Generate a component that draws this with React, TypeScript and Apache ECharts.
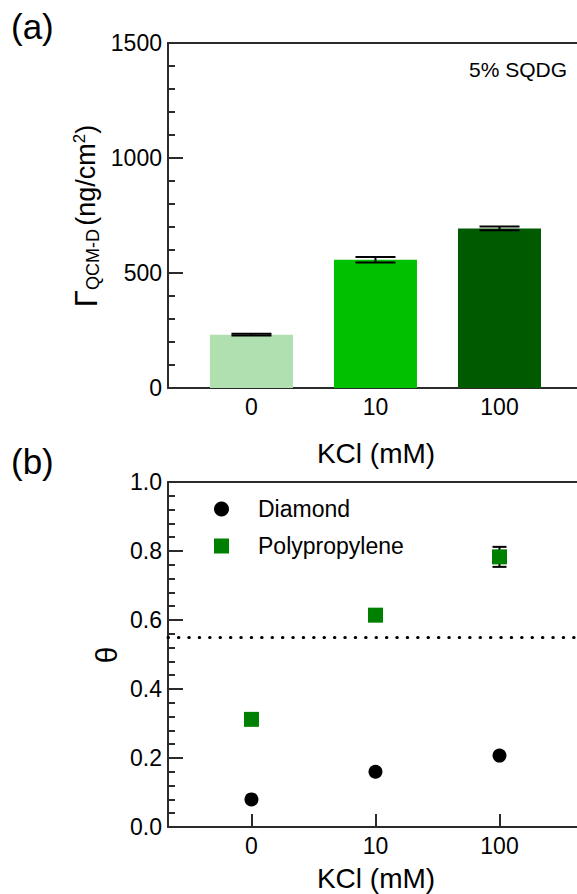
import React, { useEffect, useRef } from "react";
import * as echarts from "echarts";

const kclLabels = ["0", "10", "100"];
const kclPos = [0, 1, 2];
const gammaValues = [232, 558, 694];
const gammaErrors = [4, 12, 8];
const barColors = ["#b0e0b0", "#00c000", "#005a00"];
const diamondTheta = [0.08, 0.16, 0.207];
const polyTheta = [0.312, 0.614, 0.783];
const polyErrors = [0.004, 0.005, 0.029];
const thresholdTheta = 0.547;

const FONT = "'Liberation Sans', Arial, Helvetica, sans-serif";
const AXIS_COLOR = "#2b2b2b";

function errorRender(capHalf: number) {
  return (params: any, api: any) => {
    const x = api.value(0);
    const y = api.value(1);
    const e = api.value(2);
    const hi = api.coord([x, y + e]);
    const lo = api.coord([x, y - e]);
    const style = { stroke: "#000", lineWidth: 2 };
    return {
      type: "group",
      children: [
        { type: "line", shape: { x1: hi[0], y1: hi[1], x2: lo[0], y2: lo[1] }, style },
        { type: "line", shape: { x1: hi[0] - capHalf, y1: hi[1], x2: hi[0] + capHalf, y2: hi[1] }, style },
        { type: "line", shape: { x1: lo[0] - capHalf, y1: lo[1], x2: lo[0] + capHalf, y2: lo[1] }, style },
      ],
    };
  };
}

export default function App() {
  const ref = useRef<HTMLDivElement>(null);
  useEffect(() => {
    if (!ref.current) return;
    const chart = echarts.init(ref.current, undefined, { renderer: "svg" });
    const xMin = -0.673;
    const xMax = 2.625;
    const mkX = (gridIndex: number) => ({
      type: "value",
      gridIndex,
      min: xMin,
      max: xMax,
      axisLine: { show: true, onZero: false, lineStyle: { color: AXIS_COLOR, width: 2 } },
      axisTick: { show: true, inside: true, length: 13, customValues: kclPos, lineStyle: { color: AXIS_COLOR, width: 2 } },
      axisLabel: {
        customValues: kclPos,
        formatter: (v: number) => kclLabels[Math.round(v)] ?? "",
        fontSize: 23,
        fontFamily: FONT,
        color: "#000",
        margin: 7,
      },
      splitLine: { show: false },
    });
    const mkTop = (gridIndex: number) => ({
      type: "value",
      gridIndex,
      position: "top",
      min: xMin,
      max: xMax,
      axisLine: { show: true, onZero: false, lineStyle: { color: AXIS_COLOR, width: 2 } },
      axisTick: { show: false },
      axisLabel: { show: false },
      splitLine: { show: false },
    });
    const mkY = (gridIndex: number, min: number, max: number, interval: number, fmt: (v: number) => string) => ({
      type: "value",
      gridIndex,
      min,
      max,
      interval,
      axisLine: { show: true, onZero: false, lineStyle: { color: AXIS_COLOR, width: 2 } },
      axisTick: { show: true, inside: true, length: 15, lineStyle: { color: AXIS_COLOR, width: 2 } },
      minorTick: { show: true, splitNumber: 5, length: 7, lineStyle: { color: AXIS_COLOR, width: 2 } },
      axisLabel: { formatter: fmt, fontSize: 23, fontFamily: FONT, color: "#000", margin: 6 },
      splitLine: { show: false },
      minorSplitLine: { show: false },
    });

    chart.setOption({
      animation: false,
      backgroundColor: "#fff",
      textStyle: { fontFamily: FONT },
      grid: [
        { left: 168, top: 43, width: 409, height: 345 },
        { left: 168, top: 482, width: 409, height: 345 },
      ],
      xAxis: [mkX(0), mkTop(0), mkX(1), mkTop(1)],
      yAxis: [
        mkY(0, 0, 1500, 500, (v) => String(v)),
        mkY(1, 0, 1, 0.2, (v) => v.toFixed(1)),
      ],
      legend: {
        data: ["Diamond", "Polypropylene"],
        orient: "vertical",
        left: 209,
        top: 491,
        itemWidth: 15,
        itemHeight: 15,
        itemGap: 11,
        itemStyle: { opacity: 1 },
        textStyle: { fontSize: 23, fontFamily: FONT, color: "#000", lineHeight: 26, padding: [0, 0, 0, 24] },
      },
      series: [
        {
          type: "bar",
          xAxisIndex: 0,
          yAxisIndex: 0,
          barWidth: 83,
          data: gammaValues.map((v, i) => ({ value: [kclPos[i], v], itemStyle: { color: barColors[i] } })),
        },
        {
          type: "custom",
          xAxisIndex: 0,
          yAxisIndex: 0,
          z: 5,
          renderItem: errorRender(20),
          data: gammaValues.map((v, i) => [kclPos[i], v, gammaErrors[i]]),
        },
        {
          name: "Diamond",
          type: "scatter",
          xAxisIndex: 2,
          yAxisIndex: 1,
          symbol: "circle",
          symbolSize: 14,
          itemStyle: { color: "#000", opacity: 1 },
          data: diamondTheta.map((v, i) => [kclPos[i], v]),
          markLine: {
            silent: true,
            symbol: ["none", "none"],
            label: { show: false },
            lineStyle: { color: "#000", width: 3, type: [0.5, 9.9], cap: "round", opacity: 1 },
            data: [{ yAxis: thresholdTheta }],
          },
        },
        {
          type: "custom",
          xAxisIndex: 2,
          yAxisIndex: 1,
          z: 3,
          renderItem: errorRender(7),
          data: polyTheta.map((v, i) => [kclPos[i], v, polyErrors[i]]),
        },
        {
          name: "Polypropylene",
          type: "scatter",
          xAxisIndex: 2,
          yAxisIndex: 1,
          symbol: "rect",
          symbolSize: 15,
          z: 4,
          itemStyle: { color: "#008000", opacity: 1 },
          data: polyTheta.map((v, i) => [kclPos[i], v]),
        },
      ],
      graphic: [
        { type: "text", left: 11, top: 9, style: { text: "(a)", fontSize: 35, fontFamily: FONT, fill: "#000" } },
        { type: "text", left: 11, top: 444, style: { text: "(b)", fontSize: 35, fontFamily: FONT, fill: "#000" } },
        {
          type: "text",
          x: 567,
          y: 69,
          style: { text: "5% SQDG", fontSize: 21, fontFamily: FONT, fill: "#000", align: "right", verticalAlign: "middle" },
        },
        {
          type: "text",
          x: 86,
          y: 216,
          rotation: Math.PI / 2,
          style: {
            text: "{g|Γ}{s|QCM-D} {n|(ng/cm}{p|2}{n|)}",
            align: "center",
            verticalAlign: "middle",
            fill: "#000",
            fontFamily: FONT,
            rich: {
              g: { fontSize: 31, fontFamily: FONT, lineHeight: 31, fill: "#000" },
              s: { fontSize: 18, fontFamily: FONT, lineHeight: 16, verticalAlign: "bottom", fill: "#000" },
              n: { fontSize: 27, fontFamily: FONT, lineHeight: 31, fill: "#000" },
              p: { fontSize: 17, fontFamily: FONT, lineHeight: 14, verticalAlign: "top", fill: "#000" },
            },
          },
        },
        {
          type: "text",
          x: 106,
          y: 655,
          rotation: Math.PI / 2,
          style: { text: "θ", fontSize: 30, fontFamily: FONT, fill: "#000", align: "center", verticalAlign: "middle" },
        },
        {
          type: "text",
          x: 376,
          y: 453,
          style: { text: "KCl (mM)", fontSize: 28, fontFamily: FONT, fill: "#000", align: "center", verticalAlign: "middle" },
        },
        {
          type: "text",
          x: 376,
          y: 878,
          style: { text: "KCl (mM)", fontSize: 28, fontFamily: FONT, fill: "#000", align: "center", verticalAlign: "middle" },
        },
      ],
    });
    return () => chart.dispose();
  }, []);
  return <div ref={ref} style={{ position: "fixed", left: 0, top: 0, width: 577, height: 894 }} />;
}
